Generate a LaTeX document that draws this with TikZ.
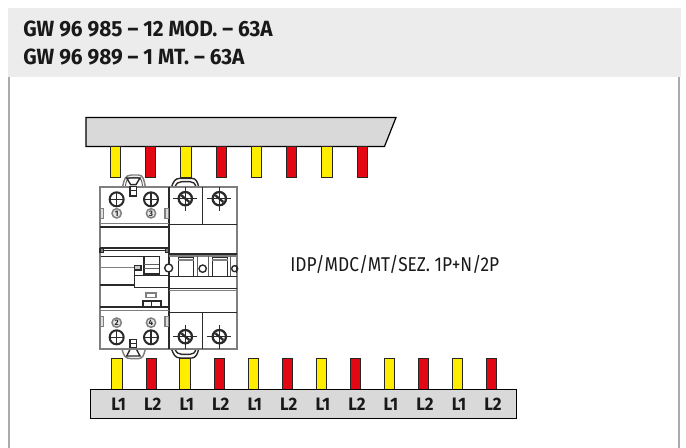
\documentclass[tikz,border=0pt]{standalone}
\usepackage{fontspec}
\usepackage{graphicx}
\setmainfont{Fira Sans}
\newfontfamily\hdrfont{Fira Sans}[UprightFont=* Bold]
\newfontfamily\lblfont{Fira Sans}
\definecolor{hdrgray}{HTML}{ECECEC}
\definecolor{framegray}{HTML}{ABABAB}
\definecolor{bargray}{HTML}{D9D9D9}
\definecolor{pinyellow}{HTML}{FFED00}
\definecolor{pinred}{HTML}{E30613}
\definecolor{devline}{HTML}{2A2A2A}
\tikzset{
  frameline/.style={draw=framegray,line width=1.1pt},
  barbox/.style={draw=black,fill=bargray,line width=0.9pt},
  ypin/.style={draw=black!85,fill=pinyellow,line width=0.75pt},
  rpin/.style={draw=black!85,fill=pinred,line width=0.75pt},
  hdrtext/.style={font=\hdrfont\fontsize{16.5}{16.5}\selectfont,anchor=base west,inner sep=0pt,text=black!90},
  barlabel/.style={font=\hdrfont\fontsize{13.5}{14}\selectfont,anchor=center,inner sep=0pt,text=black!90},
  devthin/.style={draw=devline!75,line width=0.7pt},
  dev/.style={draw=devline,line width=1.05pt},
  devthick/.style={draw=devline,line width=1.7pt},
  devfaint/.style={draw=devline!60,line width=1.1pt},
}
\begin{document}
\begin{tikzpicture}[x=0.75pt,y=-0.75pt]
\useasboundingbox (0,0) rectangle (686,448);
\fill[white] (0,0) rectangle (686,448);
% header
\fill[hdrgray] (8,8) rectangle (681,77);
\node[hdrtext] (h1) at (23,37) {\scalebox{0.947}[1]{GW 96 985 – 12 MOD. – 63A}};
\node[hdrtext] (h2) at (23,65) {\scalebox{0.947}[1]{GW 96 989 – 1 MT. – 63A}};
\draw[frameline] (9.2,77) -- (9.2,448);
\draw[frameline] (679,77) -- (679,448);
% top busbar
\draw[barbox] (86,117.5) -- (396,117.5) -- (384.5,146.5) -- (86,146.5) -- cycle;
\foreach \i in {0,2,4,6} {
  \draw[ypin] ({110.5+35.23*\i},146.8) rectangle ++(10.2,30.5);
  \draw[rpin] ({145.7+35.23*\i},146.8) rectangle ++(10.2,30.5);
}
% bottom busbar
\foreach \i in {0,2,...,10} {
  \draw[ypin] ({111.9+34.03*\i},358.5) rectangle ++(10.4,30.8);
  \draw[rpin] ({146+34.03*\i},358.5) rectangle ++(10.4,30.8);
}
\draw[barbox] (90.5,389.3) rectangle (516.5,418.3);
\foreach \i in {0,2,...,10} {
  \node[barlabel] (la\i) at ({118.7+34.03*\i},404.5) {\scalebox{0.94}[1]{L1}};
  \node[barlabel] (lb\i) at ({152.7+34.03*\i},404.5) {\scalebox{0.94}[1]{L2}};
}
% side label
\node[font=\lblfont\fontsize{15}{15}\selectfont,anchor=base west,inner sep=0pt,text=black!90] (lbl) at (290,271.5) {\scalebox{0.865}[1]{IDP/MDC/MT/SEZ. 1P+N/2P}};
% device, coordinates in 3x zoom units
\begin{scope}[shift={(80,170)},x=0.25pt,y=-0.25pt]
  % clips
  \draw[devfaint] (128,50) .. controls (132,30) and (135,15) .. (155,15) -- (175,15) .. controls (190,15) and (192,30) .. (196,50);
  \draw[devthin] (136,50) .. controls (138,32) and (142,22) .. (158,22) -- (172,22) .. controls (184,22) and (186,34) .. (188,50);
  \draw[dev] (140,24) -- (180,24) -- (168,44) -- (152,44) -- cycle;
  \draw[devfaint] (126,538) .. controls (132,558) and (135,566) .. (155,566) -- (175,566) .. controls (190,566) and (192,552) .. (196,538);
  \draw[dev] (140,558) -- (180,558) -- (168,535) -- (152,535) -- cycle;
  \draw[dev] (275,50) .. controls (280,35) and (285,25) .. (300,25) -- (335,25) .. controls (348,25) and (352,35) .. (356,50);
  \draw[dev] (285,50) .. controls (290,40) and (295,35) .. (305,35) -- (330,35) .. controls (340,35) and (344,40) .. (348,50);
  \draw[dev] (275,538) .. controls (280,552) and (285,564) .. (300,564) -- (335,564) .. controls (348,564) and (352,552) .. (356,538);
  \draw[dev] (285,538) .. controls (290,548) and (295,553) .. (305,553) -- (330,553) .. controls (340,553) and (344,548) .. (348,538);
  % body
  \draw[devfaint,line width=1.4pt,fill=white] (60,50) rectangle (470,538);
  \draw[dev,line width=1.3pt] (266,50) -- (266,538);
  \draw[dev,fill=white] (150,50) rectangle (170,78);
  \draw[dev] (150,62) -- (170,62);
  \draw[dev,fill=white] (150,508) rectangle (170,532);
  \draw[dev] (150,520) -- (170,520);
  % left upper
  \draw[devfaint] (60,160) -- (266,160);
  \draw[dev] (60,171) -- (266,171);
  \draw[devthick] (60,234) -- (266,234);
  \draw[dev] (62,241) -- (264,241);
  \draw[dev,fill=devline!60] (60,235) rectangle (70,248);
  \draw[dev,fill=devline!60] (256,235) rectangle (266,248);
  \foreach \cx in {110,213} {
    \draw[dev,line width=1.5pt] (\cx,88) circle (21);
    \draw[dev,line width=1.2pt] (\cx-21,88) -- (\cx+21,88) (\cx,67) -- (\cx,109);
    \draw[devfaint,fill=devline!12] (\cx,130) circle (14);
    \node[font=\hdrfont\fontsize{6}{6}\selectfont,inner sep=0pt,text=black!85] (nt\cx) at (\cx,130) {\ifnum\cx=110 1\else 3\fi};
    \draw[dev,line width=1.5pt] (\cx,502) circle (21);
    \draw[dev,line width=1.2pt] (\cx-21,502) -- (\cx+21,502) (\cx,481) -- (\cx,523);
    \draw[devfaint,fill=devline!12] (\cx,458) circle (14);
    \node[font=\hdrfont\fontsize{6}{6}\selectfont,inner sep=0pt,text=black!85] (nb\cx) at (\cx,458) {\ifnum\cx=110 2\else 4\fi};
  }
  \foreach \tx in {60,255} {
    \draw[devfaint,fill=devline!15] (\tx,115) rectangle ++(10,30);
    \draw[devfaint,fill=devline!15] (\tx,440) rectangle ++(10,30);
  }
  % left middle
  \draw[dev] (62,259) -- (190,259);
  \draw[devfaint] (62,292) -- (163,292);
  \draw[devthick] (60,346) -- (163,346);
  \draw[dev] (163,292) -- (163,352);
  \draw[dev] (163,317) -- (266,317);
  \draw[dev] (163,353) -- (266,353);
  \draw[dev] (192,260) rectangle (238,312);
  \draw[devthin] (192,283) -- (238,283) (192,294) -- (238,294);
  \draw[dev,fill=devline!25] (163,286) rectangle (183,300);
  \draw[dev] (60,411) -- (266,411);
  \draw[devfaint] (60,421) -- (266,421);
  \draw[devfaint] (198,369) rectangle (228,382);
  \draw[devthick] (188,393) rectangle (243,412);
  \draw[dev] (215,393) -- (215,412);
  % right module
  \draw[dev] (368,50) -- (368,164);
  \draw[dev] (266,164) -- (470,164);
  \draw[dev] (266,252) -- (470,252);
  \draw[devfaint] (266,258) -- (470,258);
  \draw[dev] (266,319) -- (470,319);
  \draw[dev] (266,356) -- (470,356);
  \draw[devfaint] (266,362) -- (470,362);
  \draw[dev] (266,428) -- (470,428);
  \draw[dev] (368,428) -- (368,538);
  \draw[dev] (295,319) -- (295,262) -- (341,262) -- (341,319);
  \draw[dev] (397,319) -- (397,262) -- (443,262) -- (443,319);
  \draw[devfaint] (295,270) -- (341,270) (397,270) -- (443,270);
  \draw[devthin] (352,258) -- (352,319) (386,258) -- (386,319) (451,258) -- (451,319);
  \draw[dev,fill=white] (266,294) circle (12);
  \draw[dev,fill=white] (368,296) circle (11);
  \draw[dev,fill=white] (464,296) circle (9);
  \draw[dev] (470,284) -- (470,308);
  \foreach \sx/\sy in {316/86,418/86,316/500,418/500} {
    \draw[dev,line width=1.7pt] (\sx,\sy) circle (20);
    \draw[dev,line width=1.2pt] (\sx-36,\sy) -- (\sx+36,\sy) (\sx,\sy-36) -- (\sx,\sy+36);
    \draw[devthick] (\sx-12,\sy-10) -- (\sx+12,\sy+10);
  }
\end{scope}
\end{tikzpicture}
\end{document}
